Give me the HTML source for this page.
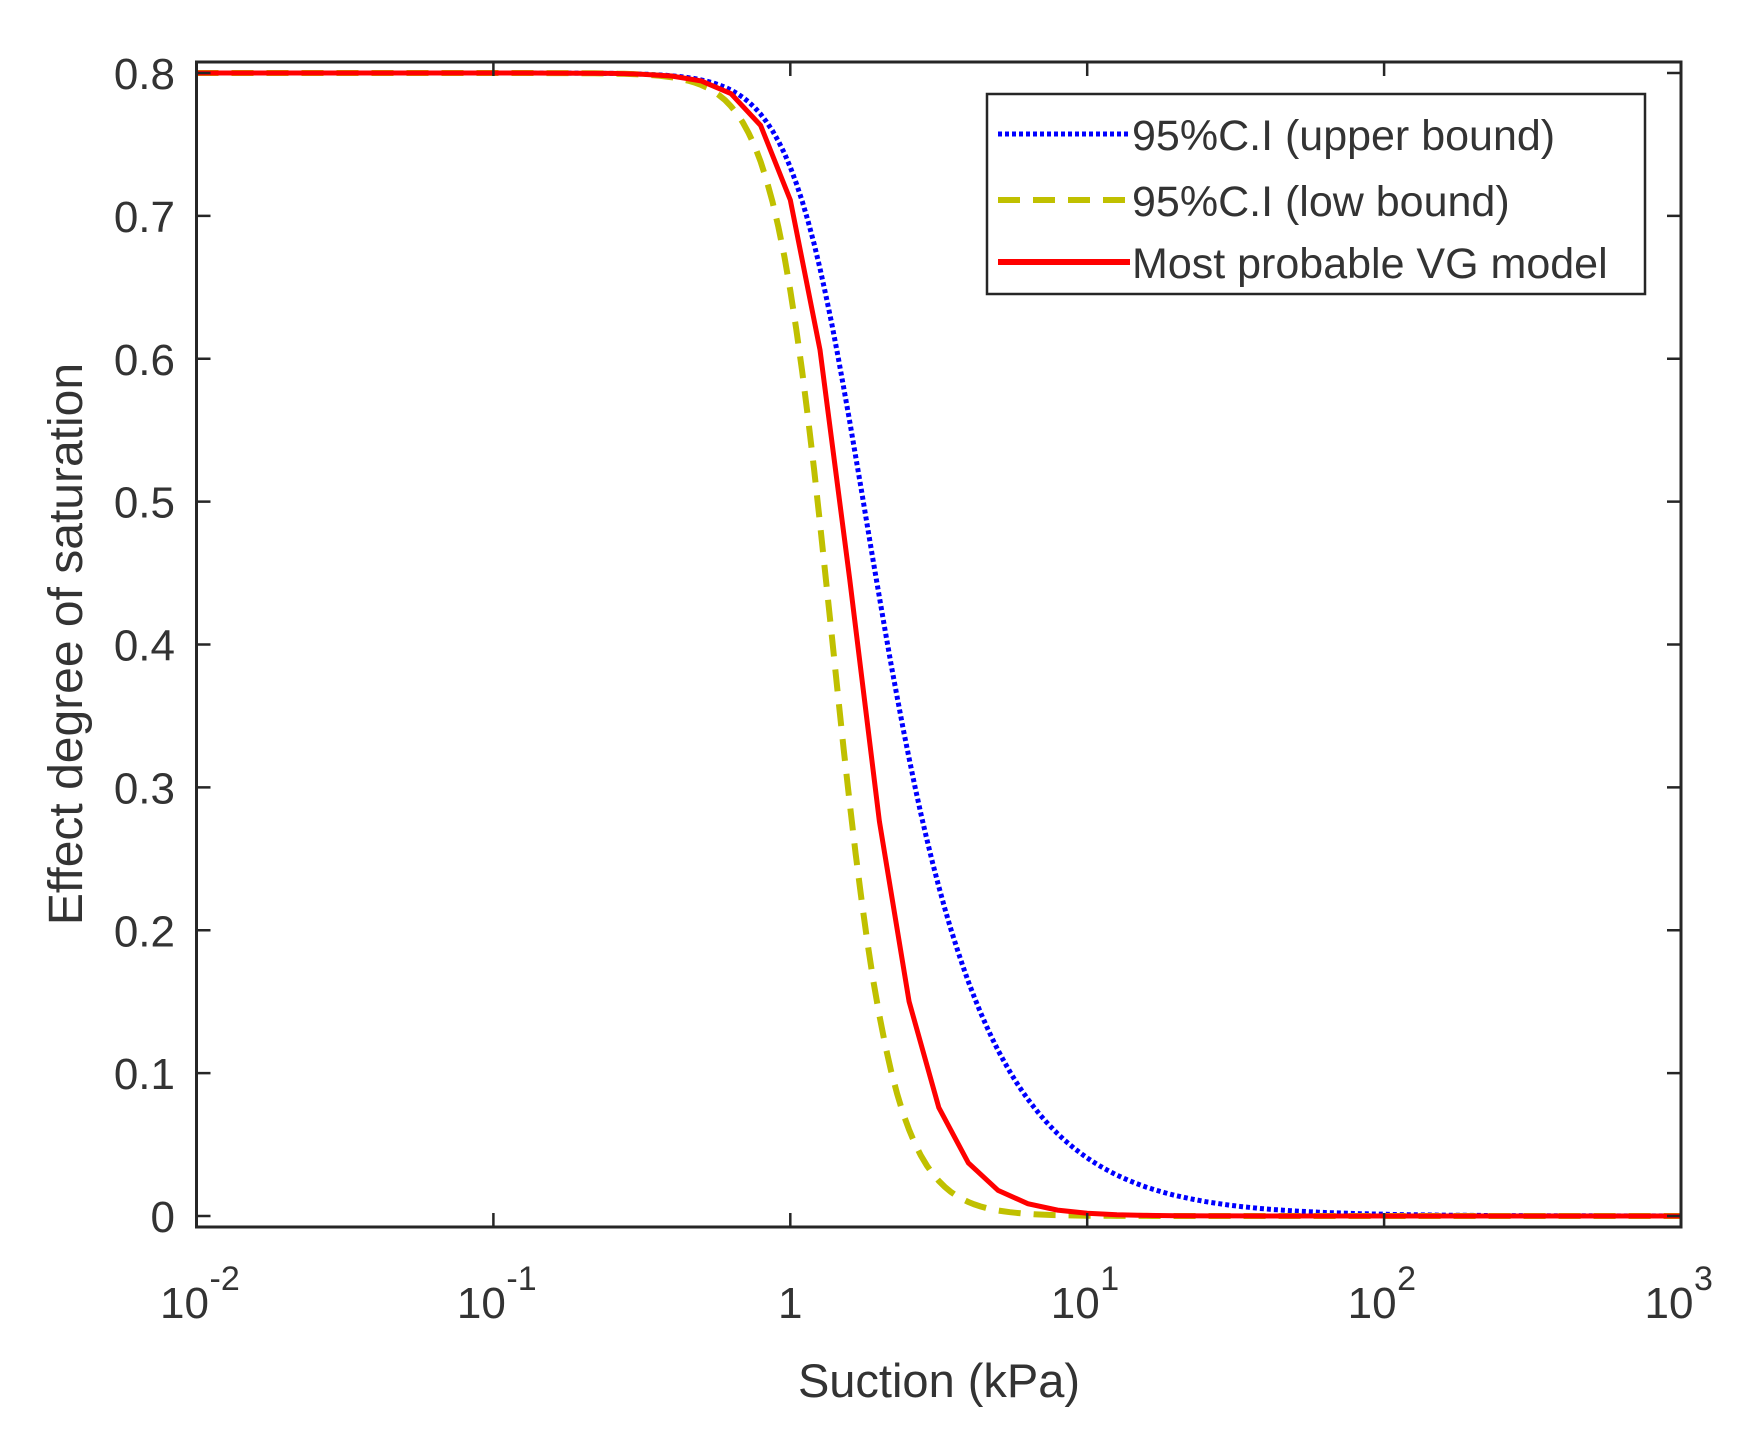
<!DOCTYPE html>
<html><head><meta charset="utf-8">
<style>
html,body{margin:0;padding:0;background:#fff;}
svg{display:block;}
text{font-family:"Liberation Sans",sans-serif;fill:#333;}
</style></head>
<body>
<svg id="s" width="1761" height="1433" viewBox="0 0 1761 1433" xmlns="http://www.w3.org/2000/svg">
<rect x="0" y="0" width="1761" height="1433" fill="#fff"/>
<g id="curves"></g>
<rect x="196.5" y="62" width="1484.5" height="1165" fill="none" stroke="#262626" stroke-width="3"/>
<g id="ticks" stroke="#262626" stroke-width="2.5"></g>
<g id="labels" font-size="44"></g>
<text x="939" y="1397" font-size="47" text-anchor="middle">Suction (kPa)</text>
<text transform="translate(82,644) rotate(-90)" font-size="48" text-anchor="middle">Effect degree of saturation</text>
<rect x="987" y="94" width="658" height="200" fill="#fff" stroke="#262626" stroke-width="2.5"/>
<line x1="998" y1="134" x2="1130" y2="134" stroke="#0000ff" stroke-width="5" stroke-dasharray="4 3"/>
<line x1="998" y1="200" x2="1130" y2="200" stroke="#c0c000" stroke-width="6" stroke-dasharray="22 13"/>
<line x1="998" y1="262" x2="1130" y2="262" stroke="#ff0000" stroke-width="6"/>
<text x="1132" y="150" font-size="43">95%C.I (upper bound)</text>
<text x="1132" y="216" font-size="43">95%C.I (low bound)</text>
<text x="1132" y="278" font-size="43">Most probable VG model</text>
</svg>
<script>
var L=196.5,R=1681,Y0=1216,Y8=73;
function X(lh){return L+(lh+2)*(R-L)/5;}
function Y(s){return Y0-(Y0-Y8)*s/0.8;}
function vg(h,a,n,m){return 0.8*Math.pow(1+Math.pow(a*h,n),-m);}
function path(a,n,m,step){var d="";for(var lh=-2;lh<=3.0001;lh+=step){var s=vg(Math.pow(10,lh),a,n,m);d+=(d?"L":"M")+X(lh).toFixed(1)+","+Y(s).toFixed(1);}return d;}
var g=document.getElementById("curves");
function add(d,col,w,dash){var p=document.createElementNS("http://www.w3.org/2000/svg","path");p.setAttribute("d",d);p.setAttribute("fill","none");p.setAttribute("stroke",col);p.setAttribute("stroke-width",w);if(dash)p.setAttribute("stroke-dasharray",dash);g.appendChild(p);}
add(path(0.71,4.0,0.38,0.02),"#0000ff",5,"4 3");
add(path(0.744,4.5,0.9,0.02),"#c0c000",6,"22 13");
add(path(0.653,4.2,1-1/4.2,0.1),"#ff0000",5,null);
var t=document.getElementById("ticks"),lb=document.getElementById("labels");
function ln(x1,y1,x2,y2){var l=document.createElementNS("http://www.w3.org/2000/svg","line");l.setAttribute("x1",x1);l.setAttribute("y1",y1);l.setAttribute("x2",x2);l.setAttribute("y2",y2);t.appendChild(l);}
function tx(x,y,str,anchor,fs){var e=document.createElementNS("http://www.w3.org/2000/svg","text");e.setAttribute("x",x);e.setAttribute("y",y);e.setAttribute("text-anchor",anchor);if(fs)e.setAttribute("font-size",fs);e.textContent=str;lb.appendChild(e);return e;}
for(var i=0;i<=8;i++){var y=Y(i/10);ln(L,y,L+14,y);ln(R,y,R-14,y);tx(175,y+16,i==0?"0":"0."+i,"end");}
var exps=[-2,-1,0,1,2,3];
for(var j=0;j<6;j++){var x=X(exps[j]);ln(x,1227,x,1213);ln(x,62,x,76);
 if(exps[j]==0){tx(x,1318,"1","middle");}
 else{tx(x-12,1318,"10","middle");tx(x+13,1290,(exps[j]<0?"-":"")+Math.abs(exps[j]),"start",34);}
}
</script>
</body></html>
